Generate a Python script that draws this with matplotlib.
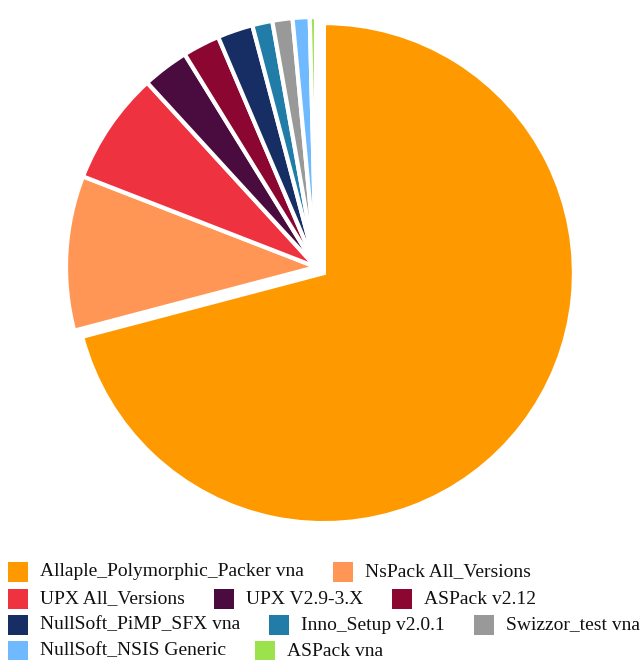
import matplotlib
matplotlib.use("Agg")
import matplotlib.pyplot as plt
from matplotlib.patches import Rectangle

# packer counts, clockwise from 12 o'clock
packers = [
    "Allaple_Polymorphic_Packer vna",
    "NsPack All_Versions",
    "UPX All_Versions",
    "UPX V2.9-3.X",
    "ASPack v2.12",
    "NullSoft_PiMP_SFX vna",
    "Inno_Setup v2.0.1",
    "Swizzor_test vna",
    "NullSoft_NSIS Generic",
    "ASPack vna",
]
counts = [709, 100, 73, 30, 24, 23, 13, 13, 11, 4]
colors = ["#ff9900", "#ff9655", "#ef323f", "#4a0b3e", "#8c0632",
          "#162e64", "#217ca8", "#999999", "#6fbaff", "#9be24c"]
# legend rows as laid out in the reference
legend_rows = [[0, 1], [2, 3, 4], [5, 6, 7], [8, 9]]

W, H = 640, 660
fig = plt.figure(figsize=(W / 100, H / 100), dpi=100)
fig.patch.set_facecolor("white")

# pie centre / radius in pixels
cx, cy, R = 316, 267, 250
ax = fig.add_axes([(cx - R) / W, (H - cy - R) / H, 2 * R / W, 2 * R / H])
explode = [0.04] + [0] * (len(counts) - 1)
ax.pie(counts, colors=colors, startangle=90, counterclock=False,
       explode=explode, radius=1,
       wedgeprops=dict(edgecolor="white", linewidth=3))
ax.set_xlim(-1, 1)
ax.set_ylim(-1, 1)
ax.set_aspect("equal")
ax.axis("off")

# ─── legend, flowed in rows ───
font = dict(family="Liberation Serif", size=14, color="#111111")
renderer = fig.canvas.get_renderer()
row_y = [572, 599, 625, 651]
for yc, row in zip(row_y, legend_rows):
    x = 8
    for i in row:
        fig.patches.append(Rectangle((x / W, 1 - (yc + 10) / H), 20 / W, 20 / H,
                                     transform=fig.transFigure,
                                     facecolor=colors[i], edgecolor="none"))
        t = fig.text((x + 32) / W, 1 - yc / H, packers[i], va="center",
                     ha="left", **font)
        bb = t.get_window_extent(renderer)
        x = bb.x1 + 29

fig.savefig("out.png", dpi=100, facecolor="white")
